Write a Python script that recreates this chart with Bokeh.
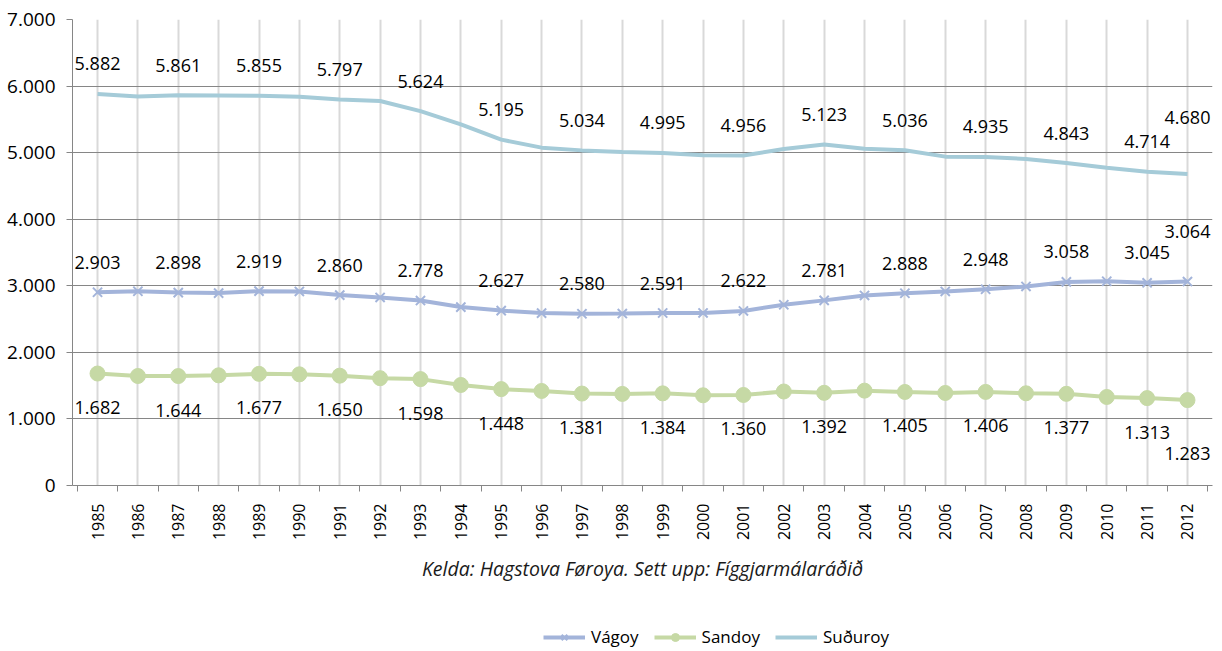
import math
from bokeh.plotting import figure
from bokeh.layouts import column
from bokeh.models import (FixedTicker, Range1d, Legend, LegendItem, Title,
                          ColumnDataSource)
from bokeh.core.properties import value
from bokeh.embed import file_html
from bokeh.resources import INLINE

# ---- data ----
years = ["1985", "1986", "1987", "1988", "1989", "1990", "1991", "1992", "1993",
         "1994", "1995", "1996", "1997", "1998", "1999", "2000", "2001", "2002",
         "2003", "2004", "2005", "2006", "2007", "2008", "2009", "2010", "2011",
         "2012"]
vagoy = [2903, 2918, 2898, 2890, 2919, 2915, 2860, 2825, 2778, 2680, 2627, 2590,
         2580, 2583, 2591, 2592, 2622, 2715, 2781, 2855, 2888, 2915, 2948, 2990,
         3058, 3068, 3045, 3064]
sandoy = [1682, 1645, 1644, 1655, 1677, 1670, 1650, 1612, 1598, 1510, 1448, 1420,
          1381, 1376, 1384, 1355, 1360, 1412, 1392, 1425, 1405, 1390, 1406, 1385,
          1377, 1330, 1313, 1283]
suduroy = [5882, 5845, 5861, 5858, 5855, 5840, 5797, 5775, 5624, 5425, 5195, 5075,
           5034, 5010, 4995, 4962, 4956, 5055, 5123, 5060, 5036, 4940, 4935, 4905,
           4843, 4772, 4714, 4680]
series_names = ["Vágoy", "Sandoy", "Suðuroy"]
y_ticks = [0, 1000, 2000, 3000, 4000, 5000, 6000, 7000]
y_tick_labels = ["0", "1.000", "2.000", "3.000", "4.000", "5.000", "6.000", "7.000"]
caption_text = "Kelda: Hagstova Føroya. Sett upp: Fíggjarmálaráðið"

# ---- styles ----
FONT = "Open Sans"
C_VAG = "#a3b4da"
C_SAN = "#c6d9a5"
C_SUD = "#a5cbd8"
GRID_DARK = "#868686"
GRID_LIGHT = "#d9d9d9"

n = len(years)
xs = list(range(n))
PAD = 0.62

p = figure(width=1214, height=590, output_backend="svg", toolbar_location=None,
           x_range=Range1d(-PAD, n - 1 + PAD), y_range=Range1d(0, 7000),
           min_border_left=72, min_border_right=2, min_border_top=19,
           min_border_bottom=105)
p.outline_line_color = None
p.background_fill_color = "white"
p.border_fill_color = "white"

# x axis
xt = FixedTicker(ticks=xs, minor_ticks=[i - 0.5 for i in range(n + 1)])
p.xaxis.ticker = xt
p.xaxis.major_label_overrides = {i: years[i] for i in xs}
p.xaxis.major_tick_out = 0
p.xaxis.major_tick_in = 0
p.xaxis.minor_tick_out = 6
p.xaxis.minor_tick_in = 0
p.xaxis.minor_tick_line_color = GRID_DARK
p.xaxis.axis_line_color = GRID_DARK
p.xaxis.major_label_orientation = math.pi / 2
p.xaxis.major_label_text_font = FONT
p.xaxis.major_label_text_font_size = "16px"
p.xaxis.major_label_text_color = "#000000"
p.xaxis.major_label_standoff = 12

# y axis
p.yaxis.ticker = FixedTicker(ticks=y_ticks)
p.yaxis.major_label_overrides = {t: l for t, l in zip(y_ticks, y_tick_labels)}
p.yaxis.major_tick_out = 6
p.yaxis.major_tick_in = 0
p.yaxis.minor_tick_out = 0
p.yaxis.minor_tick_in = 0
p.yaxis.major_tick_line_color = GRID_DARK
p.yaxis.axis_line_color = GRID_DARK
p.yaxis.major_label_text_font = FONT
p.yaxis.major_label_text_font_size = "19px"
p.yaxis.major_label_text_color = "#000000"
p.yaxis.major_label_standoff = 11

# grids
p.xgrid.ticker = xt
p.xgrid.grid_line_color = GRID_LIGHT
p.xgrid.grid_line_width = 2
p.ygrid.grid_line_color = GRID_DARK
p.ygrid.grid_line_width = 1


def draw_series(fig, vals, color, marker, msize):
    rs = [fig.line(xs, vals, line_color=color, line_width=4)]
    if marker == "x":
        rs.append(fig.scatter(xs, vals, marker="x", size=msize, line_color=color,
                              line_width=2))
    elif marker == "circle":
        rs.append(fig.scatter(xs, vals, marker="circle", size=msize,
                              fill_color=color, line_color=color))
    return rs


styles = [(vagoy, C_VAG, "x", 13), (sandoy, C_SAN, "circle", 15),
          (suduroy, C_SUD, None, 0)]
for vals, col, mk, ms in styles:
    draw_series(p, vals, col, mk, ms)


def fmt(v):
    return f"{v:,}".replace(",", ".")


def add_labels(vals, off, off_last):
    idx = [i for i in xs if i % 2 == 0 or i == n - 1]
    src = ColumnDataSource(dict(
        x=idx, y=[vals[i] for i in idx], t=[fmt(vals[i]) for i in idx],
        o=[off_last if i == n - 1 else off for i in idx]))
    p.text(x="x", y="y", text="t", y_offset="o", source=src,
           text_align="center", text_baseline="middle",
           text_font=value(FONT), text_font_size="18px", text_color="#000000")


add_labels(suduroy, -30, -56)
add_labels(vagoy, -30, -50)
add_labels(sandoy, 34, 53)

caption = Title(text=caption_text, align="center", text_font=FONT,
                text_font_style="italic", text_font_size="19.5px",
                text_color="#1a1a1a", standoff=18)
p.add_layout(caption, "below")

# ---- legend strip: same series drawn outside its visible window ----
lf = figure(width=1214, height=61, output_backend="svg", toolbar_location=None,
            x_range=Range1d(-100, -99), y_range=Range1d(-100, -99),
            x_axis_location=None, y_axis_location=None, min_border=0)
lf.grid.visible = False
lf.outline_line_color = None
items = []
for name, (vals, col, mk, ms) in zip(series_names, styles):
    items.append(LegendItem(label=name,
                            renderers=draw_series(lf, vals, col, mk, ms)))

legend = Legend(items=items, orientation="horizontal", location=(471, 3),
                glyph_width=42, glyph_height=20, label_standoff=6, spacing=15,
                label_text_font=FONT, label_text_font_size="17px",
                label_text_color="#000000", border_line_color=None,
                background_fill_alpha=0, padding=0, margin=0)
lf.add_layout(legend)

layout = column(p, lf, spacing=0)
open("out.html", "w").write(file_html(layout, INLINE))
